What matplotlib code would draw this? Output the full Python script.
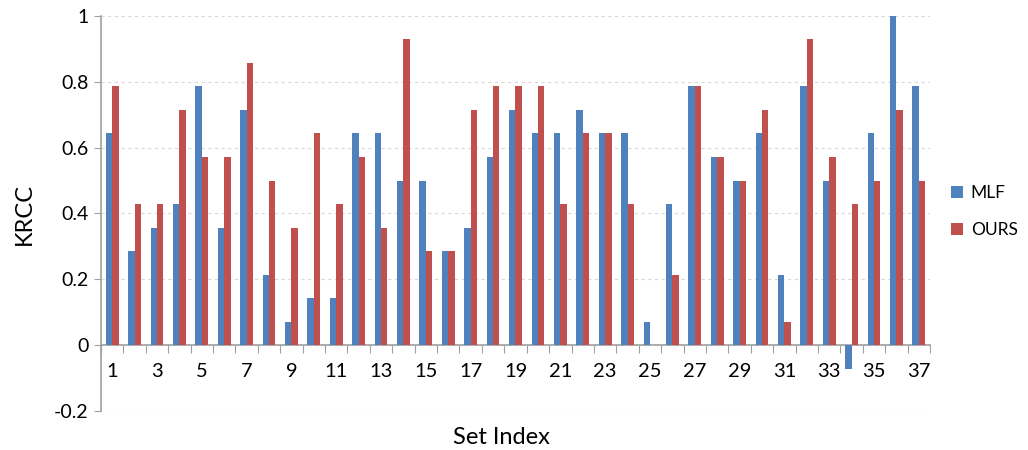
import matplotlib
matplotlib.use("Agg")
import matplotlib.pyplot as plt
import numpy as np

plt.rcParams['font.family'] = ['Lato', 'DejaVu Sans']

# KRCC per set
sets = np.arange(1, 38)
mlf = [0.643, 0.286, 0.357, 0.429, 0.786, 0.357, 0.714, 0.214, 0.071, 0.143,
       0.143, 0.643, 0.643, 0.5, 0.5, 0.286, 0.357, 0.571, 0.714, 0.643,
       0.643, 0.714, 0.643, 0.643, 0.071, 0.429, 0.786, 0.571, 0.5, 0.643,
       0.214, 0.786, 0.5, -0.071, 0.643, 1.0, 0.786]
ours = [0.786, 0.429, 0.429, 0.714, 0.571, 0.571, 0.857, 0.5, 0.357, 0.643,
        0.429, 0.571, 0.357, 0.929, 0.286, 0.286, 0.714, 0.786, 0.786, 0.786,
        0.429, 0.643, 0.643, 0.429, 0.0, 0.214, 0.786, 0.571, 0.5, 0.714,
        0.071, 0.929, 0.571, 0.429, 0.5, 0.714, 0.5]
yticks = [-0.2, 0, 0.2, 0.4, 0.6, 0.8, 1]
ytick_labels = ['-0.2', '0', '0.2', '0.4', '0.6', '0.8', '1']

fig = plt.figure(figsize=(10.28, 4.5), dpi=100)
ax = fig.add_axes([0.0982, 0.0867, 0.8065, 0.8778])

w = 0.285
b1 = ax.bar(sets - w / 2, mlf, w, color='#4F81BD', label='MLF', zorder=3)
b2 = ax.bar(sets + w / 2, ours, w, color='#C0504D', label='OURS', zorder=3)

ax.set_xlim(0.5, 37.5)
ax.set_ylim(-0.2, 1)
ax.set_yticks(yticks)
ax.set_yticklabels(ytick_labels, fontsize=14)
ax.yaxis.grid(True, linestyle=(0, (3, 3)), color='#d9d9d9', linewidth=0.8, zorder=0)
ax.tick_params(axis='y', length=5, color='#a0a0a0', pad=4)

for s in ['top', 'right']:
    ax.spines[s].set_visible(False)
ax.spines['left'].set_color('#a0a0a0')
ax.spines['left'].set_linewidth(1.2)
ax.spines['bottom'].set_position(('data', 0))
ax.spines['bottom'].set_color('#a0a0a0')
ax.spines['bottom'].set_linewidth(1.2)

# ticks between categories, labels on odd sets
ax.set_xticks(np.arange(0.5, 38, 1))
ax.set_xticklabels([])
ax.tick_params(axis='x', which='major', direction='out', length=6, color='#a0a0a0')
ax.set_xticks(sets[::2], minor=True)
ax.set_xticklabels([str(s) for s in sets[::2]], minor=True, fontsize=14.5)
ax.tick_params(axis='x', which='minor', length=0, pad=13)

ax.set_ylabel('KRCC', fontsize=17, labelpad=14)
fig.text(0.4873, 0.028, 'Set Index', fontsize=17, ha='center', va='center')

fig.legend(handles=[b1, b2], loc='center left', bbox_to_anchor=(0.925, 0.53),
           frameon=False, fontsize=12.5, handlelength=0.7, handleheight=0.7,
           handletextpad=0.45, labelspacing=1.2, borderpad=0, borderaxespad=0)

fig.savefig('out.png', dpi=100)
